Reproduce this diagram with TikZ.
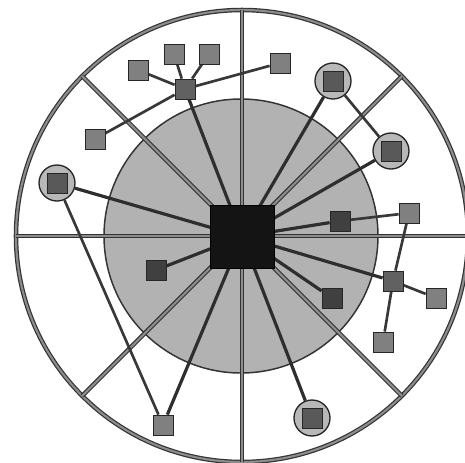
\documentclass[tikz,border=0pt]{standalone}
\pgfdeclarelayer{back}
\pgfdeclarelayer{mid}
\pgfsetlayers{back,mid,main}
\begin{document}
\begin{tikzpicture}[x=0.75pt,y=-0.75pt,
  ring/.style={draw=black!80, double=black!45, line width=0.9pt, double distance=1.6pt},
  spoke/.style={draw=black!82, line width=2.4pt},
  link/.style={draw=black!78, line width=2pt},
  leaf/.style={rectangle, draw=black!85, line width=0.6pt, fill=black!50, minimum size=15pt, inner sep=0pt},
  hubsq/.style={leaf, fill=black!62},
  darksq/.style={leaf, fill=black!75},
  ringnode/.style={circle, draw=black!85, line width=1pt, fill=black!28, minimum size=27pt, inner sep=0pt},
  innersq/.style={leaf, fill=black!65},
  core/.style={rectangle, fill=black!92, draw=black, minimum width=48pt, minimum height=47pt, inner sep=0pt}
]
\useasboundingbox (0,0) rectangle (465,462);
\clip (0,0) rectangle (465,462);

% nodes
\node[core] (core) at (242,236.5) {};
\node[hubsq] (h1) at (185,89) {};
\node[leaf] (a1) at (138,70) {};
\node[leaf] (a2) at (174,54) {};
\node[leaf] (a3) at (209,54) {};
\node[leaf] (a4) at (280,63) {};
\node[leaf] (a5) at (95,139) {};
\node[ringnode] (c1) at (333,81) {};
\node[innersq] (c1s) at (333,81) {};
\node[ringnode] (c2) at (391,151) {};
\node[innersq] (c2s) at (391,151) {};
\node[ringnode] (c3) at (57,183) {};
\node[innersq] (c3s) at (57,183) {};
\node[ringnode] (c4) at (312,418) {};
\node[innersq] (c4s) at (312,418) {};
\node[darksq] (d1) at (340,221) {};
\node[darksq] (d2) at (332,298) {};
\node[darksq] (d3) at (156,270) {};
\node[leaf] (r1) at (409,213) {};
\node[hubsq] (h2) at (393,281) {};
\node[leaf] (r2) at (436,298) {};
\node[leaf] (r3) at (383,342) {};
\node[leaf] (b1) at (163,425) {};

% rings and dividers
\begin{pgfonlayer}{back}
  \coordinate (C) at (242,236);
  \draw[ring] (C) circle [radius=226];
  \draw[draw=black!80, line width=1.1pt, fill=black!30] (241,236) circle [radius=137];
  \path (C) ++(0:226) coordinate (E) (C) ++(180:226) coordinate (W)
        (C) ++(90:226) coordinate (N) (C) ++(270:226) coordinate (S)
        (C) ++(45:226) coordinate (NE) (C) ++(225:226) coordinate (SW)
        (C) ++(135:226) coordinate (NW) (C) ++(315:226) coordinate (SE);
  \draw[ring] (W) -- (E);
  \draw[ring] (N) -- (S);
  \draw[ring] (NE) -- (SW);
  \draw[ring] (NW) -- (SE);
\end{pgfonlayer}

% connectors
\begin{pgfonlayer}{mid}
  \foreach \t in {h1,c1,c2,d1,h2,d2,c4,b1,d3,c3}
    \draw[spoke] (core.center) -- (\t);
  \foreach \t in {a1,a2,a3,a4,a5}
    \draw[link] (h1) -- (\t);
  \draw[link] (c1) -- (c2);
  \draw[link] (d1) -- (r1);
  \draw[link] (r1) -- (h2);
  \draw[link] (h2) -- (r2);
  \draw[link] (h2) -- (r3);
  \draw[link] (c3) -- (b1);
\end{pgfonlayer}
\end{tikzpicture}
\end{document}
